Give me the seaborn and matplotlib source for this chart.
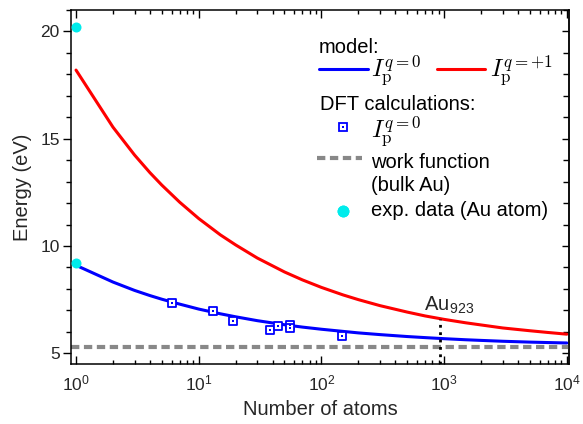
import matplotlib
matplotlib.use('Agg')
import matplotlib.pyplot as plt
import seaborn as sns
import pandas as pd
from matplotlib.lines import Line2D
from matplotlib.ticker import FixedLocator, FixedFormatter, LogLocator, NullFormatter, MultipleLocator

# ---------------- data ----------------
n_model = [1, 2, 3, 4, 5, 7, 10, 15, 20, 30, 50, 70, 100, 150, 200, 300,
           500, 700, 1000, 1500, 2000, 3000, 5000, 7000, 10000]
ip_q0 = [9.10, 8.32, 7.93, 7.69, 7.52, 7.29, 7.06, 6.84, 6.70, 6.52, 6.33, 6.22,
         6.12, 6.02, 5.95, 5.87, 5.78, 5.73, 5.68, 5.63, 5.60, 5.56, 5.52, 5.50, 5.48]
ip_q1 = [18.20, 15.54, 14.24, 13.42, 12.84, 12.04, 11.28, 10.52, 10.05, 9.44, 8.79, 8.42,
         8.07, 7.72, 7.50, 7.22, 6.92, 6.74, 6.58, 6.42, 6.32, 6.18, 6.05, 5.97, 5.89]
n_dft = [6, 13, 19, 38, 44, 55, 55, 147]
ip_dft = [7.36, 6.97, 6.52, 6.09, 6.27, 6.31, 6.17, 5.81]
work_function = 5.3
exp_n = [1, 1]
exp_energy = [9.23, 20.2]
au923_n = [923, 923]
au923_energy = [4.5, 6.62]
x_ticks = [1, 10, 100, 1000, 10000]
x_ticklabels = [r'$\mathregular{10^{0}}$', r'$\mathregular{10^{1}}$', r'$\mathregular{10^{2}}$',
                r'$\mathregular{10^{3}}$', r'$\mathregular{10^{4}}$']
y_ticks = [5, 10, 15, 20]
y_ticklabels = ['5', '10', '15', '20']

lbl_q0 = r'$I_\mathrm{p}^{q=0}$'
lbl_q1 = r'$I_\mathrm{p}^{q=+1}$'

# ---------------- style ----------------
sns.set_theme(style='ticks')
plt.rcParams['font.family'] = ['Liberation Sans', 'DejaVu Sans']
plt.rcParams['mathtext.fontset'] = 'cm'
plt.rcParams['axes.linewidth'] = 1.1

BLUE = '#0000ff'
RED = '#ff0000'
GRAY = '#888888'
CYAN = '#00ecec'

FIG_W, FIG_H = 583, 424
AX_L, AX_R, AX_T, AX_B = 70.7, 569.3, 10.0, 364.0

fig = plt.figure(figsize=(FIG_W / 100, FIG_H / 100), dpi=100)
ax = fig.add_axes([AX_L / FIG_W, 1 - AX_B / FIG_H,
                   (AX_R - AX_L) / FIG_W, (AX_B - AX_T) / FIG_H])
ax.set_xscale('log')


def fx(px):
    return (px - AX_L) / (AX_R - AX_L)


def fy(py):
    return 1 - (py - AX_T) / (AX_B - AX_T)


df_model = pd.DataFrame({'n': n_model, 'q0': ip_q0, 'q1': ip_q1})
df_dft = pd.DataFrame({'n': n_dft, 'e': ip_dft})
df_exp = pd.DataFrame({'n': exp_n, 'e': exp_energy})

# work function
ax.axhline(work_function, color=GRAY, lw=3.0, dashes=(2.0, 1.1), zorder=1)

# model curves
sns.lineplot(data=df_model, x='n', y='q1', color=RED, lw=2.2, sort=False,
             estimator=None, ax=ax, zorder=2)
sns.lineplot(data=df_model, x='n', y='q0', color=BLUE, lw=2.2, sort=False,
             estimator=None, ax=ax, zorder=2)

# Au923 marker line
ax.plot(au923_n, au923_energy, color='black', lw=2.0, ls=':', zorder=3)
ax.annotate(r'Au$_{\mathregular{923}}$', xy=(au923_n[1], au923_energy[1]),
            xytext=(6.5, 2), textcoords='offset points', ha='center', va='bottom',
            fontsize=14.5)

# DFT squares
sns.scatterplot(data=df_dft, x='n', y='e', marker='s', s=28, facecolor='white',
                edgecolor=BLUE, linewidth=1.3, ax=ax, zorder=4)
sns.scatterplot(data=df_dft, x='n', y='e', marker='s', s=2.5, color=BLUE,
                linewidth=0, ax=ax, zorder=5)

# experimental data
sns.scatterplot(data=df_exp, x='n', y='e', marker='o', s=52, color=CYAN,
                linewidth=0, ax=ax, zorder=6, clip_on=False)

# ---------------- axes ----------------
ax.set_xlim(0.905, 10470)
ax.set_ylim(4.5, 21)
ax.xaxis.set_major_locator(FixedLocator(x_ticks))
ax.xaxis.set_major_formatter(FixedFormatter(x_ticklabels))
ax.xaxis.set_minor_locator(LogLocator(base=10, subs=range(2, 10), numticks=20))
ax.xaxis.set_minor_formatter(NullFormatter())
ax.yaxis.set_major_locator(FixedLocator(y_ticks))
ax.yaxis.set_major_formatter(FixedFormatter(y_ticklabels))
ax.yaxis.set_minor_locator(MultipleLocator(1))

ax.tick_params(axis='x', which='both', direction='in', top=True, bottom=True,
               color='black', width=1.0, labelsize=12.5, pad=6.5)
ax.tick_params(axis='x', which='major', length=5.5)
ax.tick_params(axis='x', which='minor', length=3)
ax.tick_params(axis='y', which='both', direction='out', left=True, right=False,
               color='black', width=1.0, labelsize=12.5, pad=1.8)
ax.tick_params(axis='y', which='major', length=6)
ax.tick_params(axis='y', which='minor', length=3.5)

sec = ax.secondary_yaxis('right')
sec.yaxis.set_major_locator(FixedLocator(y_ticks))
sec.yaxis.set_minor_locator(MultipleLocator(1))
sec.tick_params(which='both', direction='in', width=1.0, labelright=False, color='black')
sec.tick_params(which='major', length=5)
sec.tick_params(which='minor', length=4)
sec.spines['right'].set_linewidth(1.1)

for s in ax.spines.values():
    s.set_color('black')
    s.set_linewidth(1.1)

ax.set_xlabel('Number of atoms', fontsize=14.5, labelpad=5)
ax.set_ylabel('Energy (eV)', fontsize=14.5, labelpad=6)

# ---------------- legend (keys via legend artists, texts as text) ----------------
LEG_FS = 10  # pt -> 13.89 px per em
EM = LEG_FS * 100 / 72


def legend_key(handle, cx, cy, length_px):
    leg = ax.legend([handle], [''], loc='center', bbox_to_anchor=(fx(cx), fy(cy)),
                    frameon=False, fontsize=LEG_FS, borderpad=0, borderaxespad=0,
                    handlelength=length_px / EM, handletextpad=0, handleheight=0.7)
    ax.add_artist(leg)
    return leg


h_q0 = Line2D([], [], color=BLUE, lw=2.2)
h_q1 = Line2D([], [], color=RED, lw=2.2)
h_sq = (Line2D([], [], ls='none', marker='s', ms=5.8, mfc='white', mec=BLUE, mew=1.3),
        Line2D([], [], ls='none', marker='s', ms=1.6, mfc=BLUE, mec=BLUE, mew=0))
h_wf = Line2D([], [], color=GRAY, lw=3.0, dashes=(2.0, 1.1))
h_ex = Line2D([], [], ls='none', marker='o', ms=8.5, mfc=CYAN, mec=CYAN, mew=0)

legend_key(h_q0, 343.8, 70, 49)
legend_key(h_q1, 460.9, 70, 48.3)
legend_key(h_sq, 342.7, 128, 20)
legend_key(h_wf, 339.2, 158.5, 45)
legend_key(h_ex, 342.7, 212, 20)

txt_kw = dict(transform=ax.transAxes, ha='left', va='baseline', color='black')
ax.text(fx(319.0), fy(53), 'model:', fontsize=14.5, **txt_kw)
ax.text(fx(371.0), fy(77), lbl_q0, fontsize=17.5, **txt_kw)
ax.text(fx(489.5), fy(77), lbl_q1, fontsize=17.5, **txt_kw)
ax.text(fx(320.5), fy(110), 'DFT calculations:', fontsize=14.5, **txt_kw)
ax.text(fx(371.0), fy(138), lbl_q0, fontsize=17.5, **txt_kw)
ax.text(fx(371.0), fy(168), 'work function', fontsize=14.5, **txt_kw)
ax.text(fx(371.0), fy(191), '(bulk Au)', fontsize=14.5, **txt_kw)
ax.text(fx(371.0), fy(216), 'exp. data (Au atom)', fontsize=14.5, **txt_kw)

fig.savefig('out.png', dpi=100)
